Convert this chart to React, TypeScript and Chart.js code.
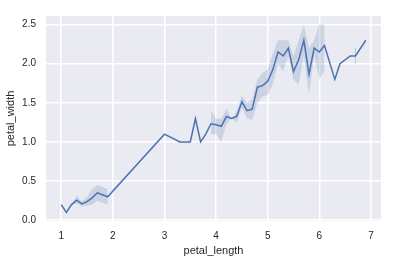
import React, { useEffect, useRef } from "react";
import { Chart, registerables } from "chart.js";

Chart.register(...registerables);

// iris: mean petal_width for each distinct petal_length, with 95% CI
const petalLength = [1.0, 1.1, 1.2, 1.3, 1.4, 1.5, 1.6, 1.7, 1.9, 3.0, 3.3, 3.5, 3.6, 3.7, 3.8, 3.9, 4.0, 4.1, 4.2, 4.3, 4.4, 4.5, 4.6, 4.7, 4.8, 4.9, 5.0, 5.1, 5.2, 5.3, 5.4, 5.5, 5.6, 5.7, 5.8, 5.9, 6.0, 6.1, 6.3, 6.4, 6.6, 6.7, 6.9];
const meanWidth = [0.2, 0.1, 0.2, 0.257, 0.208, 0.238, 0.286, 0.35, 0.3, 1.1, 1.0, 1.0, 1.3, 1.0, 1.1, 1.233, 1.22, 1.2, 1.325, 1.3, 1.325, 1.513, 1.4, 1.42, 1.7, 1.72, 1.775, 1.925, 2.15, 2.1, 2.2, 1.9, 2.05, 2.3, 1.867, 2.2, 2.15, 2.233, 1.8, 2.0, 2.1, 2.1, 2.3];
const ciLow: (number | null)[] = [null, null, 0.2, 0.214, 0.177, 0.185, 0.2, 0.25, 0.2, null, 1.0, 1.0, null, null, null, 1.1, 1.1, 1.0, 1.225, 1.3, 1.25, 1.44, 1.3, 1.28, 1.5, 1.58, 1.6, 1.74, 2.0, 1.9, 2.1, 1.8, 1.73, 2.1, 1.6, 2.1, 1.8, 1.9, null, null, null, 2.0, null];
const ciHigh: (number | null)[] = [null, null, 0.2, 0.314, 0.238, 0.292, 0.4, 0.45, 0.4, null, 1.0, 1.0, null, null, null, 1.4, 1.3, 1.3, 1.425, 1.3, 1.4, 1.59, 1.5, 1.54, 1.8, 1.88, 1.93, 2.13, 2.3, 2.3, 2.3, 2.1, 2.3, 2.5, 2.2, 2.3, 2.5, 2.5, null, null, null, 2.2, null];

const xTicks = [1, 2, 3, 4, 5, 6, 7];
const yTicks = [0, 0.5, 1.0, 1.5, 2.0, 2.5];

const FONT = "'Liberation Sans', Arial, 'DejaVu Sans', sans-serif";
const TEXT = "#262626";
const BLUE = "#4c72b0";
const BAND = "rgba(76,114,176,0.2)";

const bgPlugin = {
  id: "axesBg",
  beforeDraw(chart: any) {
    const { ctx, chartArea } = chart;
    ctx.save();
    ctx.fillStyle = "#EAEAF2";
    ctx.fillRect(chartArea.left, chartArea.top, chartArea.right - chartArea.left, chartArea.bottom - chartArea.top);
    ctx.restore();
  },
};

export default function App() {
  const ref = useRef<HTMLCanvasElement | null>(null);

  useEffect(() => {
    document.body.style.margin = "0";
    document.body.style.background = "#ffffff";
    if (!ref.current) return;

    const lowData = petalLength.map((x, i) => ({ x, y: ciLow[i] }));
    const highData = petalLength.map((x, i) => ({ x, y: ciHigh[i] }));
    const lineData = petalLength.map((x, i) => ({ x, y: meanWidth[i] }));

    // isolated CI intervals (neighbours without CI) are drawn as thin vertical strokes
    const isolated: any[] = [];
    petalLength.forEach((x, i) => {
      if (ciLow[i] == null) return;
      const prev = i > 0 ? ciLow[i - 1] : null;
      const next = i < petalLength.length - 1 ? ciLow[i + 1] : null;
      if (prev == null && next == null) {
        isolated.push({
          data: [{ x, y: ciLow[i] }, { x, y: ciHigh[i] }],
          borderColor: "rgba(76,114,176,0.3)",
          borderWidth: 1,
          pointRadius: 0,
          fill: false,
        });
      }
    });

    const chart = new Chart(ref.current, {
      type: "line",
      data: {
        datasets: [
          { data: lowData, borderWidth: 0, borderColor: "rgba(0,0,0,0)", pointRadius: 0, fill: false, spanGaps: false },
          { data: highData, borderWidth: 0, borderColor: "rgba(0,0,0,0)", backgroundColor: BAND, pointRadius: 0, fill: "-1", spanGaps: false },
          ...isolated,
          { data: lineData, borderColor: BLUE, borderWidth: 1.5, pointRadius: 0, fill: false, tension: 0 },
        ] as any,
      },
      options: {
        animation: false,
        responsive: false,
        events: [],
        layout: { padding: { left: 0, top: 6, right: 31, bottom: 0 } },
        plugins: { legend: { display: false }, tooltip: { enabled: false } },
        scales: {
          x: {
            type: "linear",
            min: 0.705,
            max: 7.195,
            afterFit: (s: any) => { s.height = 37; },
            afterBuildTicks: (s: any) => { s.ticks = xTicks.map((v) => ({ value: v })); },
            grid: { color: "#ffffff", lineWidth: 1.5, drawTicks: false },
            border: { display: false },
            ticks: { color: TEXT, font: { family: FONT, size: 10 }, padding: 9, callback: (v: any) => String(v) },
            title: { display: true, text: "petal_length", color: TEXT, font: { family: FONT, size: 11 }, padding: { top: 0, bottom: 0 } },
          },
          y: {
            type: "linear",
            min: -0.01,
            max: 2.61,
            afterFit: (s: any) => { s.width = 46; },
            afterBuildTicks: (s: any) => { s.ticks = yTicks.map((v) => ({ value: v })); },
            grid: { color: "#ffffff", lineWidth: 1.5, drawTicks: false },
            border: { display: false },
            ticks: { color: TEXT, font: { family: FONT, size: 10 }, padding: 10, callback: (v: any) => Number(v).toFixed(1) },
            title: { display: true, text: "petal_width", color: TEXT, font: { family: FONT, size: 11 }, padding: { top: 4, bottom: 0 } },
          },
        },
      },
      plugins: [bgPlugin],
    });

    return () => chart.destroy();
  }, []);

  return (
    <div style={{ width: 412, height: 258 }}>
      <canvas ref={ref} width={412} height={258} style={{ display: "block" }} />
    </div>
  );
}
